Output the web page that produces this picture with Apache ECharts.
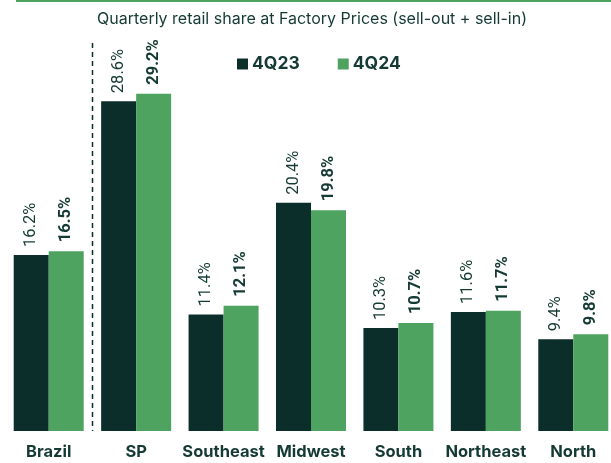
<!DOCTYPE html>
<html lang="en">
<head>
    <meta charset="UTF-8">
    <title>Quarterly retail share</title>
    <script type="text/javascript" src="https://cdn.jsdelivr.net/npm/echarts@6/dist/echarts.min.js"></script>
    <style>
        html, body { margin: 0; padding: 0; background: #fff; }
    </style>
</head>
<body>
<div id="shareChart" style="width:611px;height:463px;"></div>
<script type="text/javascript">
    // 数据
    var regions = ['Brazil', 'SP', 'Southeast', 'Midwest', 'South', 'Northeast', 'North'];
    var share4Q23 = [16.2, 28.6, 11.4, 20.4, 10.3, 11.6, 9.4];
    var share4Q24 = [16.5, 29.2, 12.1, 19.8, 10.7, 11.7, 9.8];

    var darkGreen = '#0c2e2a';
    var lightGreen = '#4ea360';
    var textColor = '#143a33';

    var shareChart = echarts.init(document.getElementById('shareChart'));

    function pct(p) {
        return p.value.toFixed(1) + '%';
    }

    var option = {
        animation: false,
        title: {
            text: 'Quarterly retail share at Factory Prices (sell-out + sell-in)',
            left: 307,
            textAlign: 'center',
            top: 6,
            textStyle: {
                fontFamily: 'Inter',
                fontSize: 16,
                fontWeight: 'normal',
                color: textColor
            }
        },
        legend: {
            left: 232,
            top: 50,
            itemWidth: 11,
            itemHeight: 11,
            itemGap: 38,
            icon: 'rect',
            textStyle: {
                fontFamily: 'Inter',
                fontSize: 17.5,
                fontWeight: 'bold',
                color: textColor,
                padding: [0, 0, 0, -1]
            },
            data: ['4Q23', '4Q24']
        },
        grid: {
            left: 5,
            width: 612,
            top: 59,
            bottom: 32,
            containLabel: false,
            outerBoundsMode: 'none'
        },
        xAxis: {
            type: 'category',
            data: regions,
            axisLine: {show: false},
            axisTick: {show: false},
            axisLabel: {
                interval: 0,
                hideOverlap: false,
                margin: 13,
                fontFamily: 'Inter',
                fontSize: 16.5,
                fontWeight: 'bold',
                color: textColor
            }
        },
        yAxis: {
            type: 'value',
            min: 2,
            max: 32,
            show: false,
            splitLine: {show: false}
        },
        series: [
            {
                name: '4Q23',
                type: 'bar',
                data: share4Q23,
                barWidth: 35,
                barGap: '0%',
                itemStyle: {color: darkGreen},
                label: {
                    show: true,
                    position: 'top',
                    rotate: 90,
                    align: 'left',
                    verticalAlign: 'middle',
                    distance: 8,
                    formatter: pct,
                    fontFamily: 'Roboto',
                    fontSize: 16.5,
                    color: textColor
                }
            },
            {
                name: '4Q24',
                type: 'bar',
                data: share4Q24,
                barWidth: 35,
                itemStyle: {color: lightGreen},
                label: {
                    show: true,
                    position: 'top',
                    rotate: 90,
                    align: 'left',
                    verticalAlign: 'middle',
                    distance: 9,
                    formatter: pct,
                    fontFamily: 'Roboto',
                    fontSize: 16.5,
                    fontWeight: 'bold',
                    color: textColor
                }
            }
        ]
    };

    shareChart.setOption(option);

    // 顶部绿线 + Brazil 与 SP 之间的虚线
    var xBrazil = shareChart.convertToPixel({xAxisIndex: 0}, 'Brazil');
    var xSP = shareChart.convertToPixel({xAxisIndex: 0}, 'SP');
    var xSplit = Math.round((xBrazil + xSP) / 2) + 0.5;
    var yBase = shareChart.convertToPixel({yAxisIndex: 0}, 2);

    shareChart.setOption({
        graphic: [
            {
                type: 'line',
                shape: {x1: 16, y1: 1, x2: 611, y2: 1},
                style: {stroke: lightGreen, lineWidth: 2}
            },
            {
                type: 'line',
                shape: {x1: xSplit, y1: 43, x2: xSplit, y2: yBase},
                style: {stroke: darkGreen, lineWidth: 1.5, lineDash: [5, 4]}
            }
        ]
    });
</script>
</body>
</html>
